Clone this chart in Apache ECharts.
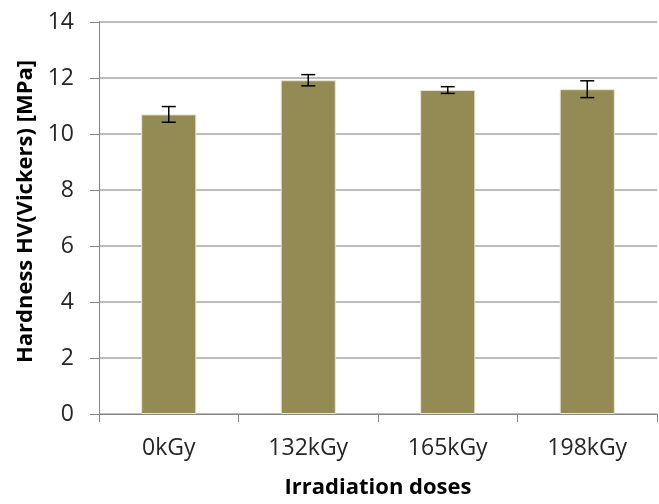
<!DOCTYPE html>
<html><head><meta charset="utf-8">
<script src="https://cdn.jsdelivr.net/npm/echarts@6/dist/echarts.min.js"></script>
<style>html,body{margin:0;padding:0;background:#fff}#c{width:659px;height:504px}</style>
</head><body><div id="c"></div>
<script>
const categories = ['0kGy', '132kGy', '165kGy', '198kGy'];
const hardness = [10.7, 11.92, 11.57, 11.6];
const errors = [0.28, 0.2, 0.12, 0.3];
const yTicks = [0, 2, 4, 6, 8, 10, 12, 14];

const chart = echarts.init(document.getElementById('c'));
const font = 'Open Sans';
chart.setOption({
  animation: false,
  grid: { left: 99, top: 22, right: 2, bottom: 88 },
  xAxis: {
    type: 'category', data: categories,
    axisLine: { lineStyle: { color: '#868686', width: 1 } },
    axisTick: { show: true, length: 8, lineStyle: { color: '#868686' } },
    axisLabel: { color: '#262626', fontFamily: font, fontSize: 23, margin: 23 },
    name: 'Irradiation doses', nameLocation: 'middle', nameGap: 63,
    nameTextStyle: { fontFamily: font, fontWeight: 'bold', fontSize: 22, color: '#000' }
  },
  yAxis: {
    type: 'value', min: yTicks[0], max: yTicks[yTicks.length - 1], interval: 2,
    axisLine: { show: true, lineStyle: { color: '#868686', width: 1 } },
    axisTick: { show: true, length: 9, lineStyle: { color: '#868686' } },
    splitLine: { lineStyle: { color: '#a6a6a6', width: 1.5 } },
    axisLabel: { color: '#262626', fontFamily: font, fontSize: 23, margin: 25 },
    name: 'Hardness HV(Vickers) [MPa]', nameLocation: 'middle', nameGap: 58,
    nameTextStyle: { fontFamily: font, fontWeight: 'bold', fontSize: 22, color: '#000', padding: [0, 0, 0, 13] }
  },
  series: [
    {
      type: 'bar', data: hardness, barWidth: '39.5%',
      itemStyle: { color: '#948A54', borderColor: '#e8e4d0', borderWidth: 1 }
    },
    {
      type: 'custom',
      data: hardness.map((v, i) => [i, v, errors[i]]),
      renderItem: function (params, api) {
        const i = api.value(0), v = api.value(1), e = api.value(2);
        const top = api.coord([i, v + e]);
        const bot = api.coord([i, v - e]);
        const hw = 7;
        const st = { stroke: '#000', lineWidth: 1.5 };
        return {
          type: 'group',
          children: [
            { type: 'line', shape: { x1: top[0], y1: top[1], x2: bot[0], y2: bot[1] }, style: st },
            { type: 'line', shape: { x1: top[0] - hw, y1: top[1], x2: top[0] + hw, y2: top[1] }, style: st },
            { type: 'line', shape: { x1: bot[0] - hw, y1: bot[1], x2: bot[0] + hw, y2: bot[1] }, style: st }
          ]
        };
      },
      z: 10
    }
  ]
});
</script></body></html>
